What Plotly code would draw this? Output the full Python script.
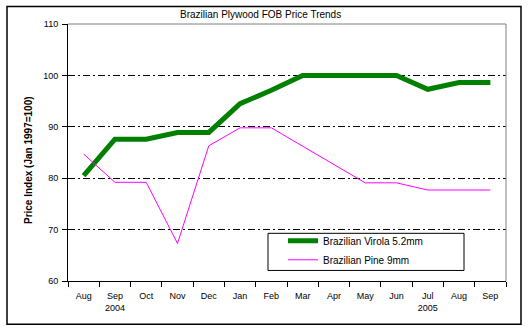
import plotly.graph_objects as go

# Monthly index values, Aug 2004 – Sep 2005 (Jan 1997 = 100)
months = ["Aug", "Sep", "Oct", "Nov", "Dec", "Jan", "Feb",
          "Mar", "Apr", "May", "Jun", "Jul", "Aug", "Sep"]
month_labels = ["Aug", "Sep<br>2004", "Oct", "Nov", "Dec", "Jan", "Feb",
                "Mar", "Apr", "May", "Jun", "Jul<br>2005", "Aug", "Sep"]
virola = [80.5, 87.6, 87.6, 88.9, 88.9, 94.5, 97.1,
          100.0, 100.0, 100.0, 100.0, 97.3, 98.6, 98.6]
pine = [84.7, 79.2, 79.2, 67.3, 86.3, 89.8, 89.8,
        86.2, 82.6, 79.1, 79.1, 77.7, 77.7, 77.7]
y_ticks = [60, 70, 80, 90, 100, 110]
grid_vals = [70, 80, 90, 100]

FONT = "Liberation Sans, Arial, sans-serif"
idx = list(range(len(months)))

fig = go.Figure()
fig.add_trace(go.Scatter(
    x=idx, y=virola, mode="lines", name="Brazilian Virola 5.2mm",
    line=dict(color="#008000", width=5),
))
fig.add_trace(go.Scatter(
    x=idx, y=pine, mode="lines", name="Brazilian Pine 9mm",
    line=dict(color="#FF00FF", width=1),
))
# invisible trace on the label axis so it is drawn
fig.add_trace(go.Scatter(x=idx, y=virola, xaxis="x2", yaxis="y2",
                         mode="lines", line=dict(width=0),
                         showlegend=False, hoverinfo="skip"))

xr = [-0.5, len(months) - 0.5]
yr = [60, 110]

fig.update_layout(
    width=528, height=332,
    margin=dict(l=68, r=22, t=24, b=51),
    paper_bgcolor="white", plot_bgcolor="white",
    font=dict(family=FONT, size=9, color="black"),
    showlegend=True,
    legend=dict(
        x=(283 - 68) / 438, y=(280.5 - 226) / 256,
        xanchor="left", yanchor="top",
        bgcolor="rgba(0,0,0,0)", borderwidth=0,
        font=dict(family=FONT, size=10, color="black"),
        tracegroupgap=0,
    ),
    xaxis=dict(
        range=xr, tickmode="array",
        tickvals=[i - 0.5 for i in range(len(months) + 1)],
        showticklabels=False, ticks="outside", ticklen=5, tickwidth=1,
        tickcolor="black", showline=True, linecolor="black", linewidth=1,
        showgrid=False, zeroline=False, fixedrange=True,
    ),
    xaxis2=dict(
        range=xr, overlaying="x", anchor="y", side="bottom",
        tickmode="array", tickvals=idx, ticktext=month_labels,
        ticks="", showline=False, showgrid=False, zeroline=False,
        tickfont=dict(family=FONT, size=9, color="black"),
        ticklabelstandoff=8,
    ),
    yaxis=dict(
        range=yr, tickmode="array", tickvals=y_ticks,
        ticks="outside", ticklen=5, tickcolor="black",
        showline=True, linecolor="black", linewidth=1,
        showgrid=False, zeroline=False,
        tickfont=dict(family=FONT, size=9, color="black"),
        ticklabelstandoff=2,
    ),
    yaxis2=dict(
        range=yr, overlaying="y", anchor="x", tickmode="array",
        tickvals=grid_vals, showticklabels=False, ticks="",
        showgrid=True, gridcolor="black", gridwidth=1,
        griddash="7px,3px,2px,3px", zeroline=False, showline=False,
    ),
)

shapes = [
    # outer chart frame
    dict(type="rect", xref="paper", yref="paper",
         x0=(7 - 68) / 438, x1=(521 - 68) / 438,
         y0=(280.5 - 323.5) / 256, y1=(280.5 - 7) / 256,
         line=dict(color="black", width=1.5), fillcolor="rgba(0,0,0,0)",
         layer="below"),
    # grey top and right plot-area edges
    dict(type="line", xref="paper", yref="paper", x0=0, x1=1, y0=1, y1=1,
         line=dict(color="#808080", width=1)),
    dict(type="line", xref="paper", yref="paper", x0=1, x1=1, y0=0, y1=1,
         line=dict(color="#808080", width=1)),
    # legend frame
    dict(type="rect", xref="paper", yref="paper",
         x0=(268 - 68) / 438, x1=(464 - 68) / 438,
         y0=(280.5 - 270) / 256, y1=(280.5 - 233) / 256,
         line=dict(color="black", width=1), fillcolor="white",
         layer="above"),
]
fig.update_layout(shapes=shapes)

fig.add_annotation(
    text="Brazilian Plywood FOB Price Trends",
    xref="paper", yref="paper", x=(260 - 68) / 438, y=(280.5 - 15) / 256,
    xanchor="center", yanchor="middle", showarrow=False,
    font=dict(family=FONT, size=10, color="black"),
)
fig.add_annotation(
    text="<b>Price Index (Jan 1997=100)</b>",
    xref="paper", yref="paper", x=(28 - 68) / 438, y=(280.5 - 160) / 256,
    xanchor="center", yanchor="middle", showarrow=False, textangle=-90,
    font=dict(family=FONT, size=10, color="black"),
)

fig.write_html("out.html")
